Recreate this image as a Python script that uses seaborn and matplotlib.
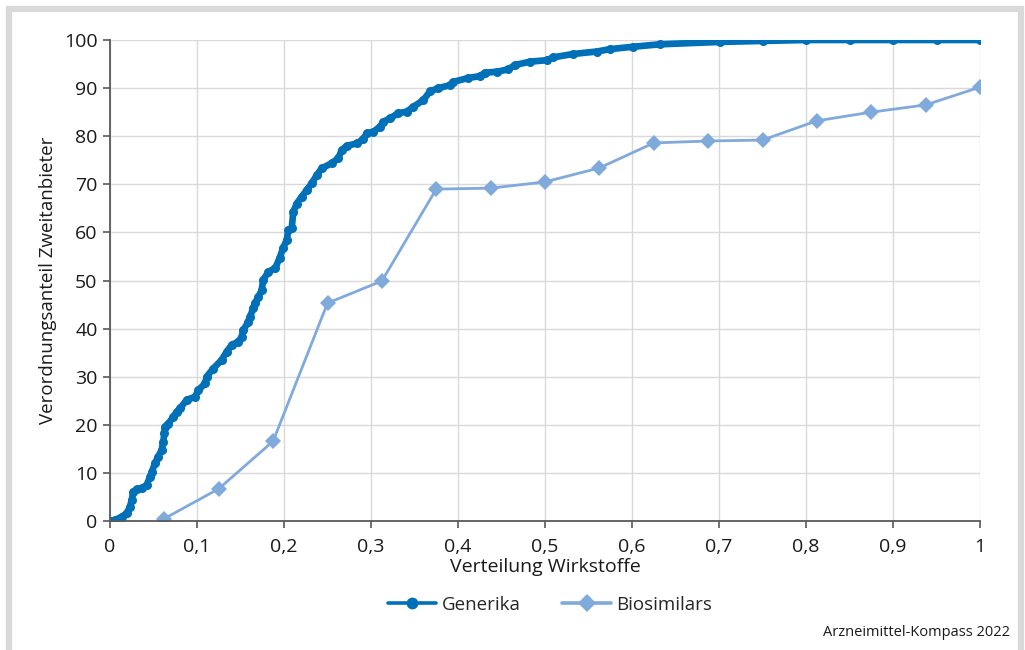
import pandas as pd
import seaborn as sns
import matplotlib.pyplot as plt
from matplotlib.patches import Rectangle
from matplotlib.lines import Line2D

# -------------------------
# Data
# -------------------------
gen_x = [0.0, 0.006, 0.0134, 0.0192, 0.023, 0.025, 0.0268, 0.0307, 0.0364, 0.0422,
         0.046, 0.048, 0.0517, 0.0555, 0.0594, 0.0613, 0.0624, 0.0632, 0.067, 0.0728,
         0.0767, 0.0805, 0.0882, 0.0977, 0.1015, 0.1092, 0.1111, 0.1187, 0.1284, 0.1341,
         0.1399, 0.1475, 0.1514, 0.1532, 0.159, 0.1609, 0.1647, 0.1667, 0.1705, 0.1744,
         0.176, 0.182, 0.19, 0.195, 0.199, 0.2031, 0.205, 0.2089, 0.2107, 0.2146,
         0.2203, 0.2261, 0.2318, 0.2376, 0.2433, 0.2548, 0.2624, 0.2663, 0.2721, 0.2836,
         0.2911, 0.2951, 0.3026, 0.3103, 0.3141, 0.3218, 0.3314, 0.341, 0.3486, 0.3601,
         0.3678, 0.3774, 0.3908, 0.3946, 0.4118, 0.4253, 0.431, 0.4445, 0.4578, 0.4655,
         0.4828, 0.502, 0.5095, 0.5325, 0.5594, 0.5747, 0.6015, 0.632, 0.701, 0.75,
         0.8, 0.85, 0.9, 0.95, 1.0]
gen_y = [0.0, 0.2, 0.9, 1.6, 3.0, 4.4, 6.1, 6.6, 6.8, 7.5,
         9.2, 10.2, 12.0, 13.4, 14.8, 16.5, 18.2, 19.6, 20.2, 21.7,
         22.7, 23.4, 25.2, 25.8, 27.2, 28.6, 30.0, 31.7, 33.5, 35.2,
         36.6, 37.3, 38.3, 39.7, 41.4, 42.5, 44.2, 45.3, 46.6, 48.0,
         50.1, 51.8, 52.6, 54.7, 56.8, 58.4, 60.5, 60.9, 64.3, 66.0,
         67.4, 68.8, 70.2, 71.9, 73.3, 74.4, 75.4, 77.1, 78.0, 78.5,
         79.4, 80.6, 80.9, 82.0, 83.0, 83.7, 84.8, 85.1, 86.1, 87.5,
         89.3, 90.0, 90.6, 91.3, 92.1, 92.5, 93.2, 93.4, 93.9, 94.8,
         95.5, 95.8, 96.4, 97.1, 97.6, 98.1, 98.6, 99.1, 99.6, 99.8,
         100.0, 100.0, 100.0, 100.0, 100.0]

bio_x = [0.0625, 0.125, 0.1875, 0.25, 0.3125, 0.375, 0.4375, 0.5,
         0.5625, 0.625, 0.6875, 0.75, 0.8125, 0.875, 0.9375, 1.0]
bio_y = [0.5, 6.7, 16.6, 45.3, 49.9, 69.0, 69.2, 70.5,
         73.4, 78.6, 79.0, 79.2, 83.2, 85.0, 86.5, 90.2]

x_ticks = [0, 0.1, 0.2, 0.3, 0.4, 0.5, 0.6, 0.7, 0.8, 0.9, 1]
x_labels = ["0", "0,1", "0,2", "0,3", "0,4", "0,5", "0,6", "0,7", "0,8", "0,9", "1"]
y_ticks = list(range(0, 101, 10))

gen_df = pd.DataFrame({"x": gen_x, "y": gen_y})
bio_df = pd.DataFrame({"x": bio_x, "y": bio_y})

# -------------------------
# Style
# -------------------------
sns.set_style("white")
plt.rcParams["font.family"] = ["Open Sans", "DejaVu Sans"]

fig = plt.figure(figsize=(10.25, 6.5), dpi=100)
ax = fig.add_axes([110 / 1025, 1 - 521 / 650, 870 / 1025, 481 / 650])

# grey frame around the figure
fig.patches.append(Rectangle((9 / 1025, -0.1), 1012 / 1025, 1.1 - 9 / 650,
                             transform=fig.transFigure, fill=False,
                             edgecolor="#d9d9d9", linewidth=4.5, zorder=0))

gen_color = "#0070b8"
bio_color = "#80a9dc"

sns.lineplot(data=gen_df, x="x", y="y", ax=ax, color=gen_color, linewidth=4.8,
             marker="o", markersize=6.5, markeredgewidth=0, sort=False,
             estimator=None, zorder=3, solid_capstyle="round",
             solid_joinstyle="round", legend=False)
sns.lineplot(data=bio_df, x="x", y="y", ax=ax, color=bio_color, linewidth=2,
             marker="D", markersize=8.5, markeredgewidth=0, sort=False,
             estimator=None, zorder=4, legend=False)

ax.set_xlim(0, 1)
ax.set_ylim(0, 100)
ax.set_xticks(x_ticks)
ax.set_xticklabels(x_labels)
ax.set_yticks(y_ticks)
ax.grid(True, color="#d9d9d9", linewidth=1)
ax.set_axisbelow(True)

for side in ["top", "right"]:
    ax.spines[side].set_visible(False)
for side in ["left", "bottom"]:
    ax.spines[side].set_color("#595959")
    ax.spines[side].set_linewidth(1.3)
    ax.spines[side].set_zorder(5)

ax.tick_params(axis="both", which="both", direction="out", length=5, width=1.2,
               color="#595959", labelsize=14, labelcolor="#1a1a1a",
               left=True, bottom=True)
ax.tick_params(axis="x", pad=7)
ax.tick_params(axis="y", pad=4)

ax.set_xlabel("Verteilung Wirkstoffe", fontsize=14, color="#1a1a1a", labelpad=2)
ax.set_ylabel("Verordnungsanteil Zweitanbieter", fontsize=13.5, color="#1a1a1a",
              labelpad=5)

handles = [
    Line2D([], [], color=gen_color, linewidth=2.6, marker="o", markersize=8.5,
           markeredgewidth=0),
    Line2D([], [], color=bio_color, linewidth=2.6, marker="D", markersize=9,
           markeredgewidth=0),
]
ax.legend(handles, ["Generika", "Biosimilars"], loc="center",
          bbox_to_anchor=(550 / 1025, 1 - 605 / 650),
          bbox_transform=fig.transFigure, ncol=2, frameon=False, fontsize=13.5,
          handlelength=2.6, columnspacing=2.2, handletextpad=0.3)

fig.text(1010 / 1025, 1 - 632 / 650, "Arzneimittel-Kompass 2022", ha="right",
         va="center", fontsize=10.5, color="#1a1a1a")

plt.savefig("out.png", dpi=100)
